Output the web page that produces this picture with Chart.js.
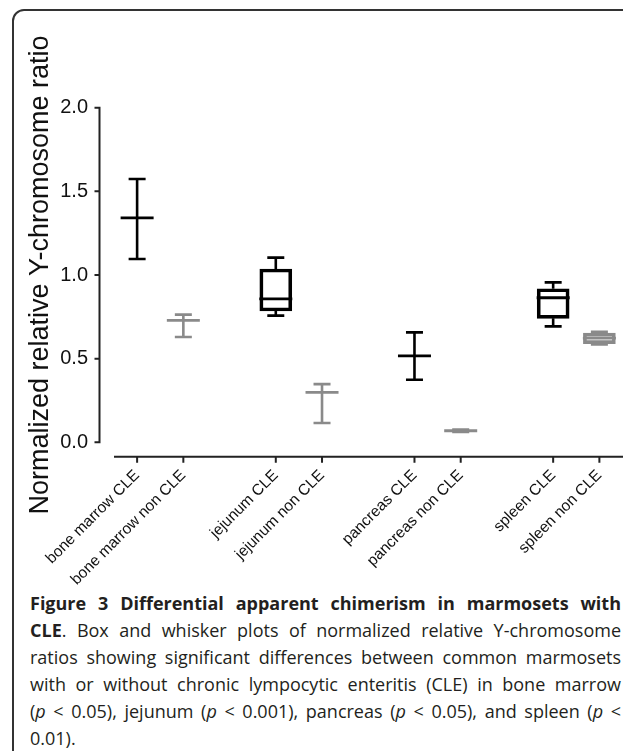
<!DOCTYPE html>
<html>
<head>
<meta charset="utf-8">
<script src="https://cdn.jsdelivr.net/npm/chart.js@4.4.0/dist/chart.umd.min.js"></script>
<style>
  html, body { margin: 0; padding: 0; background: #fff; width: 623px; height: 751px; overflow: hidden; }
  .frame { position: absolute; left: 12px; top: 9px; width: 680px; height: 800px; border: 2px solid #333; border-radius: 12px; }
  .chart-wrap { position: absolute; left: 0; top: 0; width: 623px; height: 590px; }
  .caption { position: absolute; left: 30px; top: 590px; width: 591px; font-family: "Open Sans", sans-serif; font-size: 18px; line-height: 27px; color: #231f20; }
  .caption div { text-align: justify; text-align-last: justify; white-space: nowrap; }
  .caption div.last { text-align-last: left; }
</style>
</head>
<body>
<div class="frame"></div>
<div class="chart-wrap"><canvas id="boxChart" width="623" height="590"></canvas></div>
<div class="caption">
  <div><b>Figure 3 Differential apparent chimerism in marmosets with</b></div>
  <div><b>CLE</b>. Box and whisker plots of normalized relative Y-chromosome</div>
  <div>ratios showing significant differences between common marmosets</div>
  <div>with or without chronic lympocytic enteritis (CLE) in bone marrow</div>
  <div>(<i>p</i> &lt; 0.05), jejunum (<i>p</i> &lt; 0.001), pancreas (<i>p</i> &lt; 0.05), and spleen (<i>p</i> &lt;</div>
  <div class="last">0.01).</div>
</div>
<script>
const categories = ['bone marrow CLE', 'bone marrow non CLE', 'jejunum CLE', 'jejunum non CLE',
  'pancreas CLE', 'pancreas non CLE', 'spleen CLE', 'spleen non CLE'];
const positions = [0, 1, 3, 4, 6, 7, 9, 10];
const whiskerMin = [1.096, 0.629, 0.757, 0.115, 0.374, 0.062, 0.693, 0.585];
const quartile1 = [1.341, 0.729, 0.785, 0.299, 0.516, 0.069, 0.741, 0.590];
const medians = [1.341, 0.729, 0.857, 0.299, 0.516, 0.069, 0.864, 0.623];
const quartile3 = [1.341, 0.729, 1.036, 0.299, 0.516, 0.069, 0.918, 0.653];
const whiskerMax = [1.574, 0.763, 1.104, 0.348, 0.657, 0.076, 0.956, 0.660];
const boxColors = ['#000', '#8a8a8a', '#000', '#8a8a8a', '#000', '#8a8a8a', '#000', '#8a8a8a'];
const yTicks = [0, 0.5, 1, 1.5, 2];

const armFont = '"Liberation Sans", Arial, sans-serif';

// whiskers, caps and medians on top of the floating bars
const whiskerPlugin = {
  id: 'whiskers',
  afterDatasetsDraw(chart) {
    const {ctx, scales: {x, y}} = chart;
    ctx.save();
    positions.forEach((p, i) => {
      const px = x.getPixelForValue(p);
      ctx.strokeStyle = boxColors[i];
      ctx.lineWidth = 2.6;
      ctx.beginPath();
      ctx.moveTo(px, y.getPixelForValue(whiskerMax[i]));
      ctx.lineTo(px, y.getPixelForValue(quartile3[i]));
      ctx.moveTo(px, y.getPixelForValue(quartile1[i]));
      ctx.lineTo(px, y.getPixelForValue(whiskerMin[i]));
      [whiskerMin[i], whiskerMax[i]].forEach(v => {
        const py = y.getPixelForValue(v);
        ctx.moveTo(px - 8.5, py);
        ctx.lineTo(px + 8.5, py);
      });
      ctx.stroke();
      ctx.lineWidth = 2.8;
      ctx.beginPath();
      const my = y.getPixelForValue(medians[i]);
      ctx.moveTo(px - 16.5, my);
      ctx.lineTo(px + 16.5, my);
      ctx.stroke();
    });
    ctx.restore();
  }
};

// offset axes like the original plot
const axesPlugin = {
  id: 'offsetAxes',
  afterDraw(chart) {
    const {ctx, chartArea, scales: {x, y}} = chart;
    const axisX = chartArea.left - 14.5;
    const axisY = chartArea.bottom + 14.4;
    ctx.save();
    ctx.strokeStyle = '#222';
    ctx.lineWidth = 2;
    ctx.beginPath();
    ctx.moveTo(axisX, y.getPixelForValue(yTicks[yTicks.length - 1]));
    ctx.lineTo(axisX, y.getPixelForValue(0) + 1);
    yTicks.forEach(v => {
      const py = y.getPixelForValue(v);
      ctx.moveTo(axisX - 5, py);
      ctx.lineTo(axisX + 1, py);
    });
    ctx.moveTo(chartArea.left, axisY);
    ctx.lineTo(chartArea.right + 1, axisY);
    positions.forEach(p => {
      const px = x.getPixelForValue(p);
      ctx.moveTo(px, axisY);
      ctx.lineTo(px, axisY + 6);
    });
    ctx.stroke();
    ctx.restore();
  }
};

new Chart(document.getElementById('boxChart'), {
  type: 'bar',
  data: {
    datasets: [{
      data: positions.map((p, i) => ({x: p, y: [quartile1[i], quartile3[i]]})),
      backgroundColor: 'rgba(0,0,0,0)',
      borderColor: boxColors,
      borderWidth: 3,
      borderSkipped: false,
      barThickness: 32,
    }],
  },
  options: {
    responsive: false,
    animation: false,
    layout: {autoPadding: false, padding: {top: 107.7, right: 0.5, left: 0, bottom: 0}},
    plugins: {legend: {display: false}, tooltip: {enabled: false}},
    scales: {
      x: {
        type: 'linear',
        offset: false,
        min: -0.5,
        max: 10.5,
        grid: {display: false, drawTicks: false},
        border: {display: false},
        afterBuildTicks: s => { s.ticks = positions.map(v => ({value: v})); },
        afterFit: s => {
          s.height = 590 - 442.3;
          s.paddingLeft = 0;
          s.paddingRight = 0;
        },
        ticks: {
          autoSkip: false,
          minRotation: 45,
          maxRotation: 45,
          padding: 24,
          color: '#111',
          font: {family: armFont, size: 15.5},
          callback: (v, i) => categories[i],
        },
      },
      y: {
        min: 0,
        max: 2,
        grid: {display: false, drawTicks: false},
        border: {display: false},
        afterBuildTicks: s => { s.ticks = yTicks.map(v => ({value: v})); },
        afterFit: s => { s.width = 114; },
        ticks: {
          padding: 26,
          color: '#111',
          font: {family: armFont, size: 20},
          callback: v => v.toFixed(1),
        },
        title: {
          display: true,
          text: 'Normalized relative Y-chromosome ratio',
          color: '#111',
          font: {family: armFont, size: 27},
          padding: {top: 24, bottom: 0},
        },
      },
    },
  },
  plugins: [whiskerPlugin, axesPlugin],
});
</script>
</body>
</html>
